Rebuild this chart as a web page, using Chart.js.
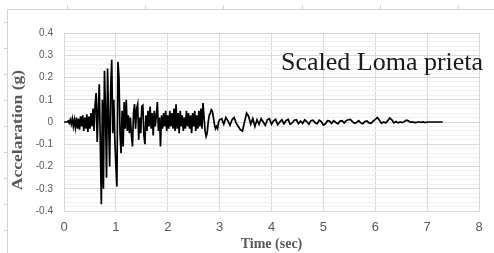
<!DOCTYPE html>
<html>
<head>
<meta charset="utf-8">
<script src="https://cdn.jsdelivr.net/npm/chart.js@4.4.1/dist/chart.umd.min.js"></script>
<style>
  html, body { margin: 0; padding: 0; background: #fff; }
  #wrap { width: 494px; height: 253px; }
</style>
</head>
<body>
<div id="wrap"><canvas id="lineChart" width="494" height="253"></canvas></div>
<script>
// time (sec) of each sample
const timeSec = [
  0.00, 0.02, 0.04, 0.06, 0.08, 0.10, 0.12, 0.14, 0.16, 0.18,
  0.20, 0.22, 0.24, 0.26, 0.28, 0.30, 0.32, 0.34, 0.36, 0.38,
  0.40, 0.42, 0.44, 0.46, 0.48, 0.50, 0.52, 0.54, 0.56, 0.58,
  0.60, 0.62, 0.64, 0.66, 0.68, 0.70, 0.72, 0.74, 0.76, 0.78,
  0.80, 0.82, 0.84, 0.86, 0.88, 0.90, 0.92, 0.94, 0.96, 0.98,
  1.00, 1.02, 1.04, 1.06, 1.08, 1.10, 1.12, 1.14, 1.16, 1.18,
  1.20, 1.22, 1.24, 1.26, 1.28, 1.30, 1.32, 1.34, 1.36, 1.38,
  1.40, 1.42, 1.44, 1.46, 1.48, 1.50, 1.52, 1.54, 1.56, 1.58,
  1.60, 1.62, 1.64, 1.66, 1.68, 1.70, 1.72, 1.74, 1.76, 1.78,
  1.80, 1.82, 1.84, 1.86, 1.88, 1.90, 1.92, 1.94, 1.96, 1.98,
  2.00, 2.02, 2.04, 2.06, 2.08, 2.10, 2.12, 2.14, 2.16, 2.18,
  2.20, 2.22, 2.24, 2.26, 2.28, 2.30, 2.32, 2.34, 2.36, 2.38,
  2.40, 2.42, 2.44, 2.46, 2.48, 2.50, 2.52, 2.54, 2.56, 2.58,
  2.60, 2.62, 2.64, 2.66, 2.68, 2.70, 2.72, 2.74, 2.76, 2.78,
  2.80, 2.82, 2.84, 2.86, 2.88, 2.90, 2.92, 2.94, 2.96, 2.98,
  3.00, 3.04, 3.08, 3.12, 3.16, 3.20, 3.24, 3.28, 3.32, 3.36,
  3.40, 3.44, 3.48, 3.52, 3.56, 3.60, 3.64, 3.68, 3.72, 3.76,
  3.80, 3.84, 3.88, 3.92, 3.96, 4.00, 4.04, 4.08, 4.12, 4.16,
  4.20, 4.24, 4.28, 4.32, 4.36, 4.40, 4.44, 4.48, 4.52, 4.56,
  4.60, 4.64, 4.68, 4.72, 4.76, 4.80, 4.84, 4.88, 4.92, 4.96,
  5.00, 5.04, 5.08, 5.12, 5.16, 5.20, 5.24, 5.28, 5.32, 5.36,
  5.40, 5.44, 5.48, 5.52, 5.56, 5.60, 5.64, 5.68, 5.72, 5.76,
  5.80, 5.84, 5.88, 5.92, 5.96, 6.00, 6.04, 6.08, 6.12, 6.16,
  6.20, 6.24, 6.28, 6.32, 6.36, 6.40, 6.44, 6.48, 6.52, 6.56,
  6.60, 6.64, 6.68, 6.72, 6.76, 6.80, 6.84, 6.88, 6.92, 6.96,
  7.00, 7.10, 7.20, 7.30
];

// acceleration (g)
const accelG = [
  0, 0, 0, 0, 0.005, -0.005, 0.01, -0.01, 0.015, -0.02,
  0.01, -0.025, 0.02, -0.03, 0.015, -0.035, 0.025, -0.02, 0.03, -0.04,
  0.02, -0.03, 0.035, -0.045, 0.025, -0.03, 0.04, -0.02, 0.06, -0.04,
  0.08, 0.13, -0.09, 0.05, 0.17, -0.1, -0.37, 0.1, -0.3, 0.23,
  0.05, -0.25, 0.24, 0.0, -0.2, 0.15, 0.28, -0.05, 0.1, -0.08,
  -0.2, -0.29, 0.27, 0.2, -0.05, -0.14, 0.05, -0.11, 0.09, -0.03,
  0.1, -0.04, 0.03, -0.05, 0.02, -0.06, -0.11, 0.04, 0.08, -0.03,
  0.06, 0.08, -0.08, 0.02, -0.05, 0.07, 0.075, -0.06, -0.1, 0.03,
  -0.04, 0.05, -0.02, 0.07, -0.03, 0.04, -0.06, 0.05, -0.02, 0.03,
  0.09, -0.04, 0.02, -0.11, 0.03, -0.03, 0.04, -0.02, 0.05, -0.04,
  0.03, -0.03, 0.05, -0.02, 0.04, -0.03, 0.06, -0.04, 0.08, -0.03,
  0.04, -0.05, 0.05, -0.02, 0.03, -0.04, 0.02, -0.03, 0.05, -0.02,
  0.04, -0.03, 0.03, -0.05, 0.04, -0.02, 0.05, -0.04, 0.03, -0.03,
  0.05, -0.02, 0.06, -0.03, 0.085, 0.02, -0.04, -0.065, -0.05, 0.0,
  0.03, 0.04, 0.055, 0.05, 0.02, -0.01, -0.03, -0.02, -0.03, 0.0,
  0.01, 0.015, -0.01, 0.02, 0.005, -0.015, 0.01, 0.02, -0.005, -0.02,
  -0.035, -0.04, 0.0, 0.04, 0.025, -0.01, 0.015, -0.02, 0.01, -0.01,
  0.015, 0.0, -0.015, 0.01, 0.015, -0.01, 0.005, 0.012, -0.012, 0.0,
  0.01, -0.008, 0.006, 0.012, -0.01, -0.004, 0.008, 0.01, -0.008, 0.004,
  -0.006, 0.01, 0.002, -0.01, 0.006, 0.008, -0.004, -0.008, 0.008, 0.002,
  -0.014, -0.008, 0.006, 0.004, -0.006, 0.006, -0.002, -0.008, 0.004, 0.006,
  -0.004, 0.006, 0.01, 0.012, 0.002, -0.006, -0.002, 0.006, -0.004, -0.008,
  0.002, 0.005, -0.004, -0.006, 0.004, 0.012, 0.02, 0.008, -0.006, 0.0,
  -0.004, 0.006, 0.018, 0.01, -0.004, 0.002, -0.004, 0.0, -0.003, 0.002,
  0.008, 0.005, -0.002, 0.0, -0.003, -0.002, 0.001, -0.002, 0.0, -0.003,
  0.0, 0.0, 0.0, 0.0
];

const xTicks = [0, 1, 2, 3, 4, 5, 6, 7, 8];
const yTicks = [-0.4, -0.3, -0.2, -0.1, 0, 0.1, 0.2, 0.3, 0.4];

const points = timeSec.map((t, i) => ({ x: t, y: accelG[i] }));

const isMajor = v => Math.abs(Math.round(v * 10) - v * 10) < 1e-6;

// page frame, y axis title (stretched like the source) and the text box
const decor = {
  id: 'decor',
  beforeDraw(chart) {
    const ctx = chart.ctx;
    ctx.save();
    ctx.strokeStyle = '#d4d4d4';
    ctx.lineWidth = 1;
    ctx.beginPath();
    ctx.moveTo(7.5, 9.5); ctx.lineTo(494, 9.5);
    ctx.moveTo(7.5, 9.5); ctx.lineTo(7.5, 253);
    [67, 145, 223, 302, 380, 458].forEach(x => { ctx.moveTo(x + 0.5, 5); ctx.lineTo(x + 0.5, 9.5); });
    for (let y = 22; y < 253; y += 26) { ctx.moveTo(4, y + 0.5); ctx.lineTo(7.5, y + 0.5); }
    ctx.stroke();
    ctx.restore();
  },
  afterDraw(chart) {
    const ctx = chart.ctx;
    ctx.save();
    ctx.fillStyle = '#1a1a1a';
    ctx.font = '26px "Liberation Serif", serif';
    ctx.textBaseline = 'alphabetic';
    ctx.fillText('Scaled Loma prieta', 281, 70);
    ctx.restore();

    ctx.save();
    ctx.translate(18.5, 130);
    ctx.rotate(-Math.PI / 2);
    ctx.scale(1.17, 1);
    ctx.fillStyle = '#595959';
    ctx.font = 'bold 15px "Liberation Serif", serif';
    ctx.textAlign = 'center';
    ctx.textBaseline = 'middle';
    ctx.fillText('Accelaration (g)', 0, 0);
    ctx.restore();
  }
};

new Chart(document.getElementById('lineChart'), {
  type: 'scatter',
  data: {
    datasets: [{
      data: points,
      showLine: true,
      borderColor: '#000',
      borderWidth: 1.7,
      pointRadius: 0,
      tension: 0
    }]
  },
  options: {
    responsive: false,
    animation: false,
    devicePixelRatio: 1,
    layout: { padding: { top: 33, right: 15, left: 0, bottom: 0 } },
    plugins: { legend: { display: false }, tooltip: { enabled: false } },
    scales: {
      x: {
        type: 'linear',
        min: xTicks[0],
        max: xTicks[xTicks.length - 1],
        afterBuildTicks: s => { s.ticks = xTicks.map(v => ({ value: v })); },
        afterFit: s => { s.height = 42; },
        grid: { color: '#d9d9d9', drawTicks: false },
        border: { color: '#d9d9d9' },
        ticks: {
          padding: 9,
          color: '#595959',
          font: { family: '"Liberation Sans", sans-serif', size: 13 },
          maxRotation: 0
        },
        title: {
          display: true,
          text: 'Time (sec)',
          color: '#595959',
          font: { family: '"Liberation Serif", serif', size: 14, weight: 'bold' },
          padding: { top: 2, bottom: 0 }
        }
      },
      y: {
        min: yTicks[0],
        max: yTicks[yTicks.length - 1],
        afterBuildTicks: s => {
          const t = [];
          for (let k = -20; k <= 20; k++) t.push({ value: k / 50 });
          s.ticks = t;
        },
        afterFit: s => { s.width = 64; },
        grid: {
          drawTicks: false,
          color: c => isMajor(c.tick.value) ? '#d9d9d9' : '#f0f0f0'
        },
        border: { color: '#d9d9d9' },
        ticks: {
          autoSkip: false,
          padding: 11,
          color: '#595959',
          font: { family: '"Liberation Sans", sans-serif', size: 10 },
          callback: v => isMajor(v) ? String(Math.round(v * 10) / 10) : ''
        }
      }
    }
  },
  plugins: [decor]
});
</script>
</body>
</html>
